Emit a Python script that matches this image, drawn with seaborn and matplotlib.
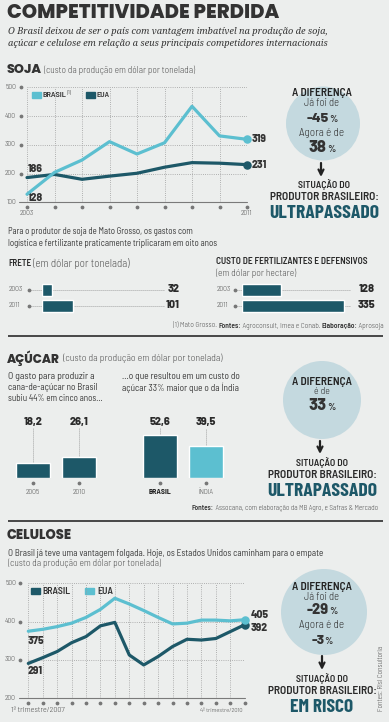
import matplotlib
matplotlib.use('Agg')
import matplotlib.pyplot as plt
import matplotlib.transforms as mtrans
from matplotlib.patches import Circle, Rectangle
import seaborn as sns
import pandas as pd

# ---------------- data ----------------
soja_years = [2003, 2004, 2005, 2006, 2007, 2008, 2009, 2010, 2011]
soja_brasil = [128, 204, 247, 311, 268, 307, 434, 331, 319]
soja_eua = [186, 197, 180, 191, 201, 222, 238, 236, 231]
soja_yticks = [100, 200, 300, 400, 500]

frete_years = ['2003', '2011']
frete_vals = [32, 101]
fert_years = ['2003', '2011']
fert_vals = [128, 335]

cana_labels = ['2005', '2010']
cana_vals = [18.2, 26.1]
pais_labels = ['BRASIL', 'ÍNDIA']
pais_vals = [52.6, 39.5]

cel_quarters = list(range(1, 17))
cel_brasil = [291, 306, 322, 345, 361, 389, 398, 313, 287, 309, 335, 354, 352, 356, 374, 392]
cel_eua = [375, 380, 387, 396, 411, 432, 461, 446, 429, 411, 394, 396, 404, 404, 402, 405]
cel_yticks = [200, 300, 400, 500]

# ---------------- style ----------------
sns.set_theme(style='white')
NARROW = ['Barlow Semi Condensed', 'DejaVu Sans']
COND = ['Barlow Condensed', 'DejaVu Sans']
NUM = ['Barlow', 'DejaVu Sans']
HEAVY = ['Poppins', 'Lato', 'DejaVu Sans']
SERIF = ['Noto Serif', 'DejaVu Serif']
plt.rcParams['font.family'] = NARROW

BG = '#eceeed'
DARK = '#1d5868'
LIGHT = '#5cbfd0'
CIRC = '#c4d9df'
TXT = '#2c2c2c'
GRAY = '#555555'
GRID = '#9c9c9c'

W, H = 389, 722
fig = plt.figure(figsize=(W / 100, H / 100), dpi=100)
fig.patch.set_facecolor(BG)


def px_axes(x0, y0, x1, y1, z=1):
    ax = fig.add_axes([x0 / W, 1 - y1 / H, (x1 - x0) / W, (y1 - y0) / H], zorder=z)
    ax.set_facecolor('none')
    return ax


ov = px_axes(0, 0, W, H, z=0)
ov.set_xlim(0, W)
ov.set_ylim(H, 0)
ov.axis('off')
R = fig.canvas.get_renderer()


def wpx(t):
    return t.get_window_extent(R).width


def T(x, y, s, size=6.3, w=None, weight='normal', color=TXT, ha='left', va='center',
      family=None, ax=None, **kw):
    a = ax if ax is not None else ov
    t = a.text(x, y, s, fontsize=size, fontweight=weight, color=color, ha=ha, va=va,
               family=family or NARROW, **kw)
    if w is not None:
        t.set_fontsize(size * w / wpx(t))
    return t


def seq(x, y, parts, ha='left', w=None):
    ts, gaps = [], []
    for s, kw in parts:
        kw = dict(kw)
        gaps.append(kw.pop('gap', 0))
        ts.append(T(x, y, s, **kw))
    if w is not None:
        total = sum(wpx(t) for t in ts) + sum(gaps)
        f = w / total
        for t in ts:
            t.set_fontsize(t.get_fontsize() * f)
        gaps = [g * f for g in gaps]
    cx = x
    for t, g in zip(ts, gaps):
        cx += g
        t.set_x(cx)
        cx += wpx(t)
    total = cx - x
    if ha != 'left':
        sh = total if ha == 'right' else total / 2
        for t in ts:
            t.set_x(t.get_position()[0] - sh)
    return ts


def rule(y):
    ov.plot([8, 383], [y, y], color='#3a3a3a', lw=1.3, solid_capstyle='butt')


def diff_circle(cx, cy, r):
    ov.add_patch(Circle((cx, cy), r, facecolor=CIRC, edgecolor='none', zorder=0))


def pct(cx, y, num, w_num=22):
    seq(cx, y, [(num, dict(size=11, w=w_num, family=NUM, weight=800, va='baseline', color='#333333')),
                ('%', dict(size=7.2, family=NUM, weight=600, va='baseline', color='#333333', gap=0.3))],
        ha='center')


def arrow(cx, y0, y1):
    ov.annotate('', xy=(cx, y1), xytext=(cx, y0),
                arrowprops=dict(arrowstyle='->', lw=1.6, color='#222222', mutation_scale=9,
                                shrinkA=0, shrinkB=0))


def status_block(cx, y_sit, status, w_status):
    T(cx, y_sit, 'SITUAÇÃO DO', size=7, w=52, weight=600, ha='center', color='#2a2a2a')
    T(cx, y_sit + 11.5, 'PRODUTOR BRASILEIRO:', size=7, w=110, weight=600, ha='center', color='#2a2a2a')
    T(cx, y_sit + 28, status, size=14, w=w_status, weight=700, family=COND, ha='center', color=DARK)


def line_chart(box, xs, series, order, palette, xlim, yticks, ytick_x, dot_x, dot_y):
    x0, y0, x1, y1 = box
    ax = px_axes(x0, y0, x1, y1)
    frames = [pd.DataFrame({'x': xs, 'v': vals, 's': name}) for name, vals in series.items()]
    df = pd.concat(frames, ignore_index=True)
    sns.lineplot(data=df, x='x', y='v', hue='s', hue_order=order, palette=palette,
                 linewidth=2.3, legend=False, ax=ax, clip_on=False, zorder=3)
    for name in order:
        ax.scatter([xs[-1]], [series[name][-1]], s=26, color=palette[name], zorder=4, clip_on=False)
    ax.set_xlim(*xlim)
    ax.set_ylim(yticks[0], yticks[-1])
    ax.set_xticks(xs)
    ax.set_yticks(yticks[1:])
    ax.grid(True, ls=(0, (1, 1.6)), color=GRID, lw=0.6)
    ax.tick_params(length=0, labelbottom=False, labelleft=False)
    ax.set_xlabel('')
    ax.set_ylabel('')
    for sp in ax.spines.values():
        sp.set_visible(False)
    ty = mtrans.blended_transform_factory(ov.transData, ax.transData)
    tx = mtrans.blended_transform_factory(ax.transData, ov.transData)
    for v in yticks:
        ax.text(ytick_x, v, str(v), transform=ty, ha='right', va='center', fontsize=5.3,
                color=GRAY, family=NARROW, fontweight=300, clip_on=False)
    for v in yticks[1:]:
        ax.scatter([dot_x], [v], s=3, color='#777777', transform=ty, clip_on=False)
    ax.scatter(xs, [dot_y] * len(xs), s=3, color='#777777', transform=tx, clip_on=False)
    ov.plot([ytick_x + 3, x1], [y1, y1], color='#7a7a7a', lw=0.8)
    return ax


BOLDNUM = dict(size=7.5, family=NUM, weight=800, color='#333333')

# ---------------- header ----------------
T(7, 13.5, 'COMPETITIVIDADE PERDIDA', size=15, w=271, family=HEAVY, weight=800, color='#333333')
T(8, 31, 'O Brasil deixou de ser o país com vantagem imbatível na produção de soja,',
  size=7, w=322, family=SERIF, style='italic', color='#333333')
T(8, 44, 'açúcar e celulose em relação a seus principais competidores internacionais',
  size=7, w=321, family=SERIF, style='italic', color='#333333')

# ---------------- SOJA ----------------
seq(7, 70, [('SOJA', dict(size=11, w=35, family=HEAVY, weight=800, color='#333333')),
            ('(custo da produção em dólar por tonelada)', dict(size=6, w=149, color=GRAY, weight=300, gap=2))])

line_chart((27, 87.3, 247, 202.3), soja_years,
           {'BRASIL': soja_brasil, 'EUA': soja_eua}, ['EUA', 'BRASIL'],
           {'BRASIL': LIGHT, 'EUA': DARK}, (2003, 2011), soja_yticks,
           ytick_x=16, dot_x=21, dot_y=207)
T(27, 213.5, '2003', size=5.3, color=GRAY, weight=300, ha='center')
T(246, 213.5, '2011', size=5.3, color=GRAY, weight=300, ha='center')

# legend
ov.add_patch(Rectangle((32, 91.8), 9, 6, color=LIGHT))
T(43, 95, 'BRASIL', size=6, w=24, weight=600, color='#333333')
T(67.5, 92.5, '(1)', size=3.5, color='#333333')
ov.add_patch(Rectangle((86, 91.8), 9, 6, color=DARK))
T(97, 95, 'EUA', size=6, w=13, weight=600, color='#333333')

# values
T(28, 168.5, str(soja_eua[0]), **BOLDNUM)
T(28, 198, str(soja_brasil[0]), **BOLDNUM)
T(252, 139, str(soja_brasil[-1]), **BOLDNUM)
T(252, 165, str(soja_eua[-1]), **BOLDNUM)

# circle soja
diff_circle(323, 123.5, 37)
T(322, 93.5, 'A DIFERENÇA', size=7, w=60, weight=600, color='#222222', ha='center')
T(322, 103.5, 'Já foi de', size=6.5, w=35, weight=300, color='#333333', ha='center')
pct(322, 121.5, '-45')
T(322, 132.5, 'Agora é de', size=6.5, w=45, weight=300, color='#333333', ha='center')
pct(322, 151.5, '38', w_num=18)
arrow(321, 163, 177)
status_block(324, 185, 'ULTRAPASSADO', 110)

# ---------------- frete / fertilizantes ----------------
T(8, 232, 'Para o produtor de soja de Mato Grosso, os gastos com', size=6.3, w=185, color='#3a3a3a')
T(8, 243, 'logística e fertilizante praticamente triplicaram em oito anos', size=6.3, w=209, color='#3a3a3a')
seq(8, 263.5, [('FRETE', dict(size=6.5, w=23, weight=600, color='#2a2a2a')),
               ('(em dólar por tonelada)', dict(size=6.3, w=95, color=GRAY, weight=300, gap=2))])
T(216, 262, 'CUSTO DE FERTILIZANTES E DEFENSIVOS', size=6.5, w=152, weight=600, color='#2a2a2a')
T(216, 273, '(em dólar por hectare)', size=6.3, w=79, weight=300, color=GRAY)

SCALE = 0.305  # px per unit


def hbars(x_start, x_end, labels, vals, lab_x, dot_x, line_end, val_right):
    ax = px_axes(x_start, 281.5, x_end, 313.5)
    df = pd.DataFrame({'ano': labels, 'v': vals})
    sns.barplot(data=df, y='ano', x='v', orient='h', color=DARK, saturation=1, width=0.75,
                ax=ax, zorder=3)
    ax.set_xlim(0, (x_end - x_start) / SCALE)
    ax.set_ylim(len(labels) - 0.5, -0.5)
    ax.axis('off')
    tr = mtrans.blended_transform_factory(ov.transData, ax.transData)
    for i, (lab, v) in enumerate(zip(labels, vals)):
        ax.plot([dot_x, line_end], [i, i], transform=tr, ls=(0, (1, 1.4)), color='#8a8a8a',
                lw=0.6, zorder=1, clip_on=False)
        ax.scatter([dot_x], [i], s=3, color='#777777', transform=tr, clip_on=False, zorder=2)
        ax.text(lab_x, i, lab, transform=tr, ha='left', va='center', fontsize=5.3, color=GRAY,
                family=NARROW, fontweight=300, clip_on=False)
        ax.text(val_right, i, str(v), transform=tr, ha='right', va='center', fontsize=7.8,
                color='#2a2a2a', family=NUM, fontweight=800, clip_on=False)
    return ax


hbars(42, 182, frete_years, frete_vals, lab_x=9, dot_x=29, line_end=165, val_right=180)
hbars(242, 377, fert_years, fert_vals, lab_x=217, dot_x=235, line_end=350, val_right=375)

seq(384, 326, [('(1) Mato Grosso. ', dict(size=4.6, color=GRAY, weight=300)),
               ('Fontes:', dict(size=4.6, weight=600, color='#333333')),
               (' Agroconsult, Imea e Conab. ', dict(size=4.6, color=GRAY, weight=300)),
               ('Elaboração:', dict(size=4.6, weight=600, color='#333333')),
               (' Aprosoja', dict(size=4.6, color=GRAY, weight=300))], ha='right', w=210)
rule(335.5)

# ---------------- AÇÚCAR ----------------
seq(7, 358, [('AÇÚCAR', dict(size=11, w=53, family=HEAVY, weight=800, color='#333333')),
             ('(custo da produção em dólar por tonelada)', dict(size=6, w=159, color=GRAY, weight=300, gap=3))])
T(8, 376.5, 'O gasto para produzir a', size=6.3, w=87, color='#3a3a3a')
T(8, 387.5, 'cana-de-açúcar no Brasil', size=6.3, w=90, color='#3a3a3a')
T(8, 398.5, 'subiu 44% em cinco anos...', size=6.3, w=94, color='#3a3a3a')
T(122, 376.5, '...o que resultou em um custo do', size=6.3, w=118, color='#3a3a3a')
T(122, 387.5, 'açúcar 33% maior que o da Índia', size=6.3, w=117, color='#3a3a3a')

VS = 0.82  # px per unit
YMAX = 60


def vbars(x0, x1, labels, vals, palette, bold_first=False):
    ax = px_axes(x0, 478 - YMAX * VS, x1, 478)
    df = pd.DataFrame({'cat': labels, 'v': vals})
    sns.barplot(data=df, x='cat', y='v', hue='cat', palette=palette, saturation=1, width=0.76,
                legend=False, ax=ax, zorder=3)
    ax.set_xlim(-0.5, len(labels) - 0.5)
    ax.set_ylim(0, YMAX)
    ax.axis('off')
    tr = mtrans.blended_transform_factory(ax.transData, ov.transData)
    trd = ax.transData
    for i, (lab, v) in enumerate(zip(labels, vals)):
        ax.text(i, 422, f'{v:.1f}'.replace('.', ','), transform=tr, ha='center', va='center',
                fontsize=7.8, color='#2a2a2a', family=NUM, fontweight=800, clip_on=False)
        ax.plot([i, i], [v, YMAX + 0.5], transform=trd, ls=(0, (1, 1.4)), color='#8a8a8a',
                lw=0.6, clip_on=False, zorder=1)
        ax.scatter([i], [482.5], s=3, color='#777777', transform=tr, clip_on=False)
        is_bold = bold_first and i == 0
        ax.text(i, 492, lab, transform=tr, ha='center', va='center',
                fontsize=5.6 if is_bold else 5.3, fontweight=700 if is_bold else 300,
                color='#222222' if is_bold else GRAY, family=NARROW, clip_on=False)
    return ax


vbars(10, 102, cana_labels, cana_vals, {'2005': DARK, '2010': DARK})
vbars(137, 229, pais_labels, pais_vals, {'BRASIL': DARK, 'ÍNDIA': LIGHT}, bold_first=True)

diff_circle(322, 400, 39)
T(322, 382, 'A DIFERENÇA', size=7, w=60, weight=600, color='#222222', ha='center')
T(322, 392, 'é de', size=6.5, w=16, weight=300, color='#333333', ha='center')
pct(322, 410, '33', w_num=18)
arrow(320, 441, 454)
status_block(322, 463, 'ULTRAPASSADO', 110)
seq(378, 508, [('Fontes:', dict(size=4.6, weight=600, color='#333333')),
               (' Assocana, com elaboração da MB Agro, e Safras & Mercado',
                dict(size=4.6, color=GRAY, weight=300))],
    ha='right', w=185)
rule(520.5)

# ---------------- CELULOSE ----------------
T(7, 536, 'CELULOSE', size=11, w=65, family=HEAVY, weight=800, color='#333333')
T(8, 553, 'O Brasil já teve uma vantagem folgada. Hoje, os Estados Unidos caminham para o empate',
  size=6.3, w=317, color='#3a3a3a')
T(8, 563.5, '(custo da produção em dólar por tonelada)', size=6, w=152, weight=300, color=GRAY)

line_chart((28.3, 583.3, 244.7, 698.3), cel_quarters,
           {'BRASIL': cel_brasil, 'EUA': cel_eua}, ['BRASIL', 'EUA'],
           {'BRASIL': DARK, 'EUA': LIGHT}, (1, 16), cel_yticks,
           ytick_x=16, dot_x=20.5, dot_y=702.5)
T(11, 710, '1º trimestre/2007', size=5.3, w=54, weight=300, color=GRAY)
T(243, 710, '4º trimestre/2010', size=5.3, w=43, weight=300, color=GRAY, ha='right')

ov.add_patch(Rectangle((31, 587.5), 9, 6, color=DARK))
T(42, 591, 'BRASIL', size=6, w=28, weight=600, color='#333333')
ov.add_patch(Rectangle((85, 587.5), 9, 6, color=LIGHT))
T(97, 591, 'EUA', size=6, w=16, weight=600, color='#333333')

T(28, 641, str(cel_eua[0]), **BOLDNUM)
T(28, 670.5, str(cel_brasil[0]), **BOLDNUM)
T(251, 615, str(cel_eua[-1]), **BOLDNUM)
T(251, 628, str(cel_brasil[-1]), **BOLDNUM)

diff_circle(324, 612, 43)
T(322, 587, 'A DIFERENÇA', size=7, w=60, weight=600, color='#222222', ha='center')
T(322, 597.5, 'Já foi de', size=6.5, w=35, weight=300, color='#333333', ha='center')
pct(322, 614.5, '-29')
T(322, 624.5, 'Agora é de', size=6.5, w=45, weight=300, color='#333333', ha='center')
pct(322, 643.5, '-3', w_num=13)
arrow(322, 656, 670)
status_block(322, 679, 'EM RISCO', 63)
T(381.5, 678, 'Fontes: Risi Consultoria', size=5.2, weight=300, color=GRAY, ha='center', rotation=90)

fig.savefig('out.png', dpi=100, facecolor=BG)
